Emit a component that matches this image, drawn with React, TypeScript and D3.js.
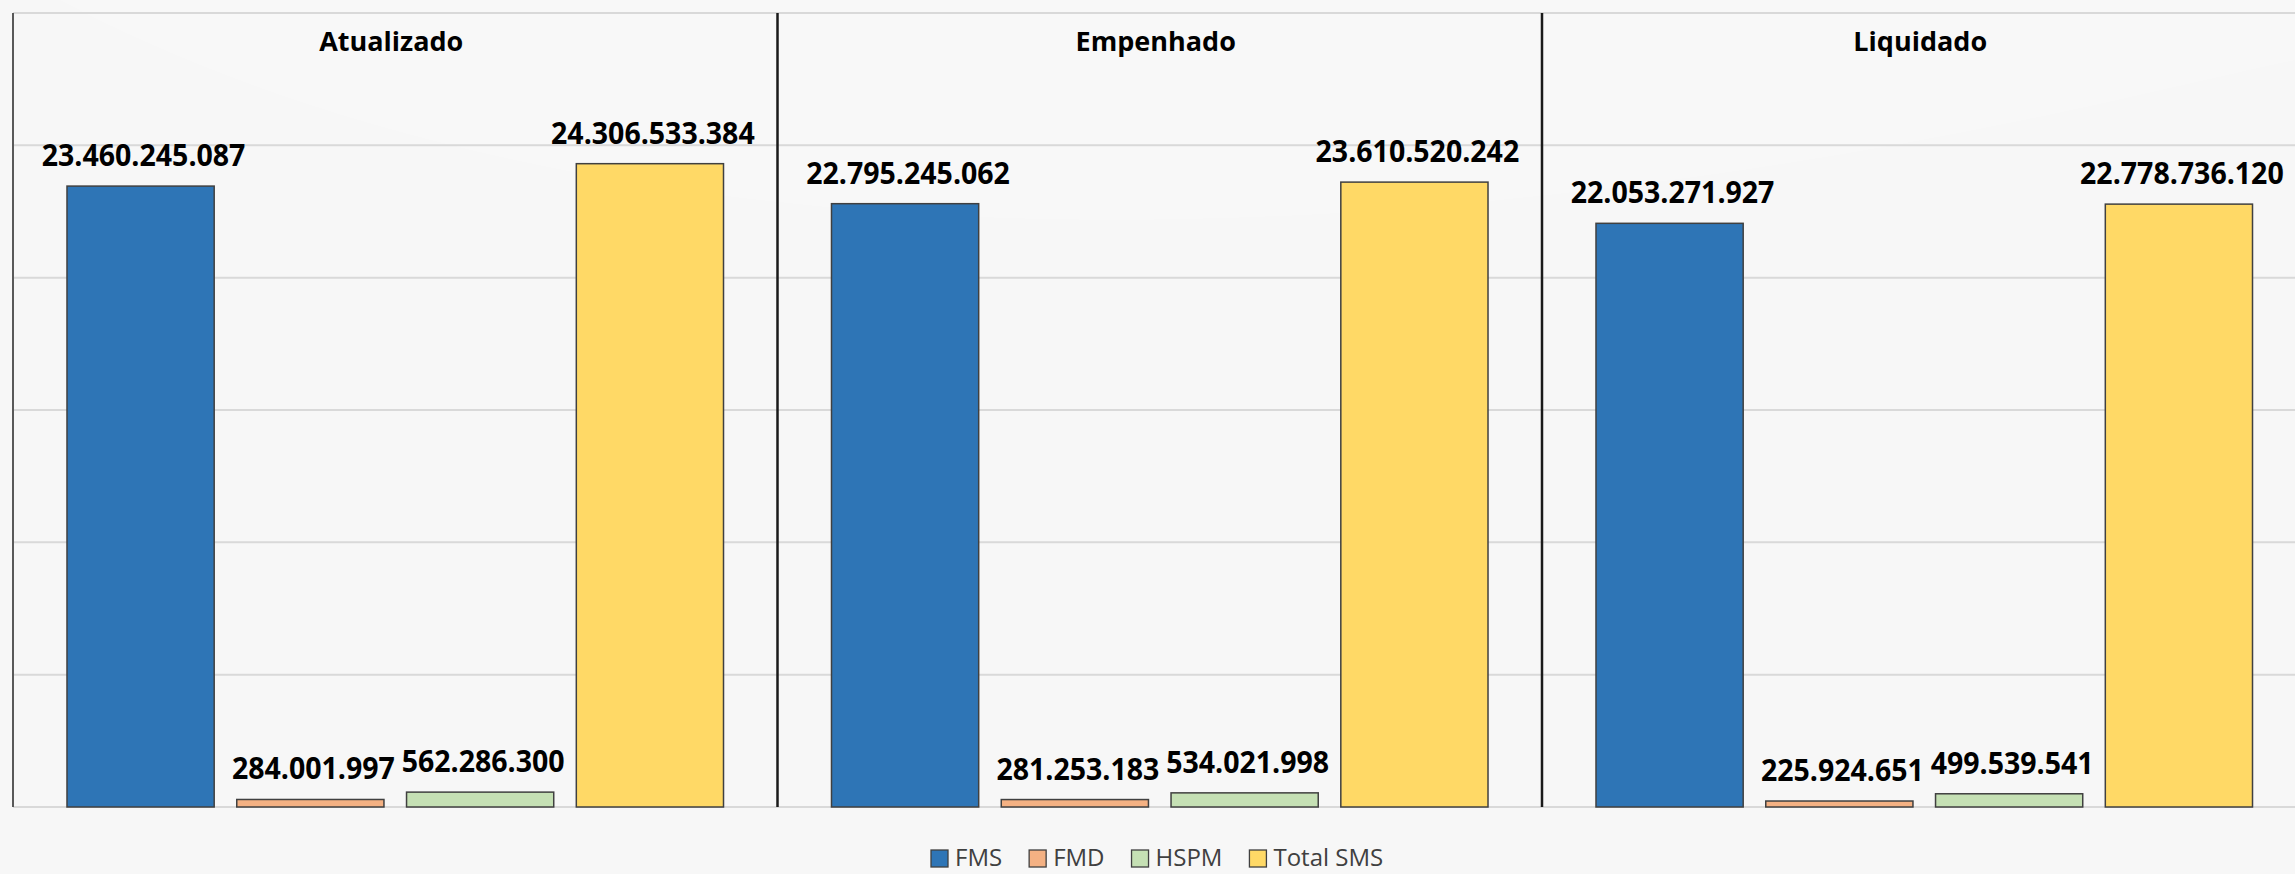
import React, { useRef, useEffect } from "react";
import * as d3 from "d3";

const categories = ["Atualizado", "Empenhado", "Liquidado"];
const seriesNames = ["FMS", "FMD", "HSPM", "Total SMS"];
const fms = [23460245087, 22795245062, 22053271927];
const fmd = [284001997, 281253183, 225924651];
const hspm = [562286300, 534021998, 499539541];
const totalSms = [24306533384, 23610520242, 22778736120];
const colors = ["#2E75B6", "#F4B183", "#C5E0B4", "#FFD966"];

const W = 2295;
const H = 874;

const App = () => {
  const ref = useRef<SVGSVGElement>(null);

  useEffect(() => {
    document.body.style.margin = "0";
    const svg = d3.select(ref.current);
    svg.selectAll("*").remove();

    const values = [fms, fmd, hspm, totalSms];
    const top = 13,
      bottom = 807,
      left = 13,
      panelW = 764.5;

    const fmt = d3.formatLocale({
      decimal: ",",
      thousands: ".",
      grouping: [3],
      currency: ["R$", ""],
    }).format(",d");

    // background
    svg.append("rect").attr("width", W).attr("height", H).attr("fill", "#f7f7f7");
    svg
      .append("path")
      .attr("d", `M60,0 C400,180 900,260 1500,200 C1900,160 2150,90 ${W},60 L${W},0 Z`)
      .attr("fill", "#ffffff")
      .attr("opacity", 0.22);

    const x0 = d3
      .scaleBand()
      .domain(categories)
      .range([left, left + panelW * categories.length])
      .padding(0);

    const x1 = d3
      .scaleBand()
      .domain(seriesNames)
      .range([0, x0.bandwidth()])
      .paddingInner(0.133)
      .paddingOuter(0.318);

    const y = d3.scaleLinear().domain([0, 30e9]).range([bottom, top]);

    // gridlines
    svg
      .append("g")
      .selectAll("line")
      .data(y.ticks(6))
      .join("line")
      .attr("x1", left)
      .attr("x2", W)
      .attr("y1", (d) => y(d))
      .attr("y2", (d) => y(d))
      .attr("stroke", "#d9d9d9")
      .attr("stroke-width", 2);

    // left axis + panel separators
    svg
      .append("line")
      .attr("x1", left)
      .attr("x2", left)
      .attr("y1", top)
      .attr("y2", bottom)
      .attr("stroke", "#595959")
      .attr("stroke-width", 2);

    svg
      .append("g")
      .selectAll("line")
      .data(categories.slice(1))
      .join("line")
      .attr("x1", (d) => x0(d)!)
      .attr("x2", (d) => x0(d)!)
      .attr("y1", top)
      .attr("y2", bottom)
      .attr("stroke", "#1a1a1a")
      .attr("stroke-width", 2.5);

    // panels
    categories.forEach((cat, ci) => {
      const g = svg.append("g").attr("transform", `translate(${x0(cat)},0)`);

      g.append("text")
        .attr("x", x0.bandwidth() / 2 - 4)
        .attr("y", 51)
        .attr("text-anchor", "middle")
        .attr("font-family", "'Open Sans', sans-serif")
        .attr("font-weight", "bold")
        .attr("font-size", 27)
        .attr("fill", "#000")
        .text(cat);

      const rows = seriesNames.map((s, si) => ({ s, v: values[si][ci], c: colors[si] }));

      g.selectAll("rect")
        .data(rows)
        .join("rect")
        .attr("x", (d) => x1(d.s)!)
        .attr("width", x1.bandwidth())
        .attr("y", (d) => y(d.v))
        .attr("height", (d) => bottom - y(d.v))
        .attr("fill", (d) => d.c)
        .attr("stroke", "#404040")
        .attr("stroke-width", 1.5);

      g.selectAll("text.lbl")
        .data(rows)
        .join("text")
        .attr("class", "lbl")
        .attr("x", (d) => x1(d.s)! + x1.bandwidth() / 2 + 3)
        .attr("y", (d) => y(d.v) - 20)
        .attr("text-anchor", "middle")
        .attr("font-family", "'Open Sans', sans-serif")
        .attr("font-weight", "bold")
        .attr("font-size", 30)
        .attr("fill", "#000")
        .text((d) => fmt(d.v))
        .each(function () {
          // squeeze a little, the original font is narrower
          const el = this as SVGTextElement;
          const w = el.getComputedTextLength();
          el.setAttribute("textLength", String(w * 0.95));
          el.setAttribute("lengthAdjust", "spacingAndGlyphs");
        });
    });

    // legend
    const legend = svg.append("g");
    let lx = 931;
    seriesNames.forEach((s, i) => {
      legend
        .append("rect")
        .attr("x", lx)
        .attr("y", 850)
        .attr("width", 17)
        .attr("height", 17)
        .attr("fill", colors[i])
        .attr("stroke", "#404040")
        .attr("stroke-width", 1.3);
      const t = legend
        .append("text")
        .attr("x", lx + 24)
        .attr("y", 866)
        .attr("font-family", "'Open Sans', sans-serif")
        .attr("font-size", 24)
        .attr("fill", "#404040")
        .text(s);
      const tw = (t.node() as SVGTextElement).getComputedTextLength();
      lx = lx + 24 + tw + 27;
    });
  }, []);

  return <svg ref={ref} width={W} height={H} style={{ display: "block" }} />;
};

export default App;
